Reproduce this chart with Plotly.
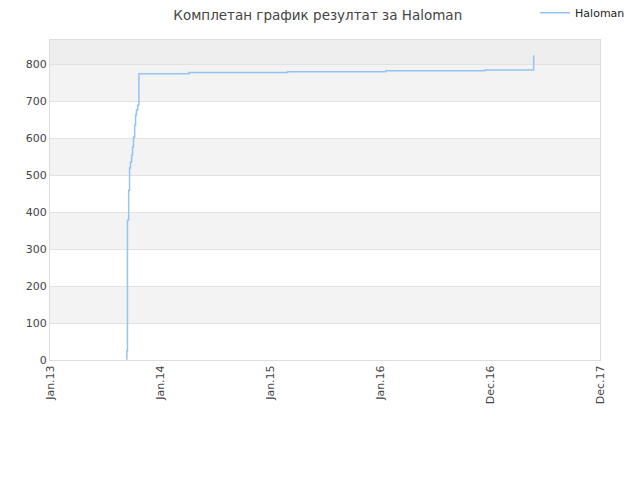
import plotly.graph_objects as go

# данни прочетени от графиката
dates = [
    "2013-09-12", "2013-09-13", "2013-09-15", "2013-09-19", "2013-09-22",
    "2013-09-25", "2013-09-29", "2013-10-02", "2013-10-05", "2013-10-09",
    "2013-10-12", "2013-10-15", "2013-10-19", "2013-10-23", "2014-04-07",
    "2015-02-28", "2016-01-20", "2016-12-14", "2017-05-25",
]
scores = [
    2, 25, 378, 459, 519,
    535, 554, 576, 603, 635,
    662, 676, 689, 774, 777,
    779, 782, 784, 824,
]

tick_dates = ["2013-01-01", "2014-01-01", "2015-01-01", "2016-01-01", "2016-12-31", "2017-12-31"]
tick_labels = ["Jan.13", "Jan.14", "Jan.15", "Jan.16", "Dec.16", "Dec.17"]

fig = go.Figure()
fig.add_trace(go.Scatter(
    x=dates,
    y=scores,
    mode="lines",
    line=dict(color="#94c4f4", width=1.5, shape="hv"),
    name="Haloman",
    showlegend=True,
))

# наизменични ленти на фона
for lo in [100, 300, 500, 700]:
    fig.add_shape(type="rect", xref="paper", yref="y", x0=0, x1=1, y0=lo, y1=lo + 100,
                  fillcolor="#f3f3f3", line_width=0, layer="below")
fig.add_shape(type="rect", xref="paper", yref="y", x0=0, x1=1, y0=800, y1=865,
              fillcolor="#eeeeee", line_width=0, layer="below")

# страницата има ~8px отстъп, затова полетата са изместени
fig.update_layout(
    width=640,
    height=480,
    margin=dict(l=42, r=48, t=32, b=128, autoexpand=False),
    paper_bgcolor="white",
    plot_bgcolor="white",
    font=dict(family="DejaVu Sans", size=11, color="#444"),
    title=dict(text="Комплетан график резултат за Haloman", x=0.484, xanchor="center",
               y=1, yanchor="top", pad=dict(t=3), font=dict(size=13.5, color="#444")),
    legend=dict(x=0.972, xanchor="right", y=0.99, yanchor="middle", xref="container", yref="container",
                font=dict(size=11, color="#222"), bgcolor="rgba(0,0,0,0)", itemwidth=30),
)
fig.update_xaxes(
    type="date",
    range=["2013-01-01", "2017-12-31"],
    tickvals=tick_dates,
    ticktext=tick_labels,
    tickangle=-90,
    showgrid=False,
    showline=True,
    linecolor="#dddddd",
    mirror=True,
    zeroline=False,
    tickfont=dict(size=11, color="#444"),
)
fig.update_yaxes(
    range=[0, 865],
    tickvals=[0, 100, 200, 300, 400, 500, 600, 700, 800],
    showgrid=True,
    gridcolor="#e2e2e2",
    showline=True,
    linecolor="#dddddd",
    mirror=True,
    zeroline=False,
    tickfont=dict(size=11, color="#444"),
)

fig.write_html("out.html")
